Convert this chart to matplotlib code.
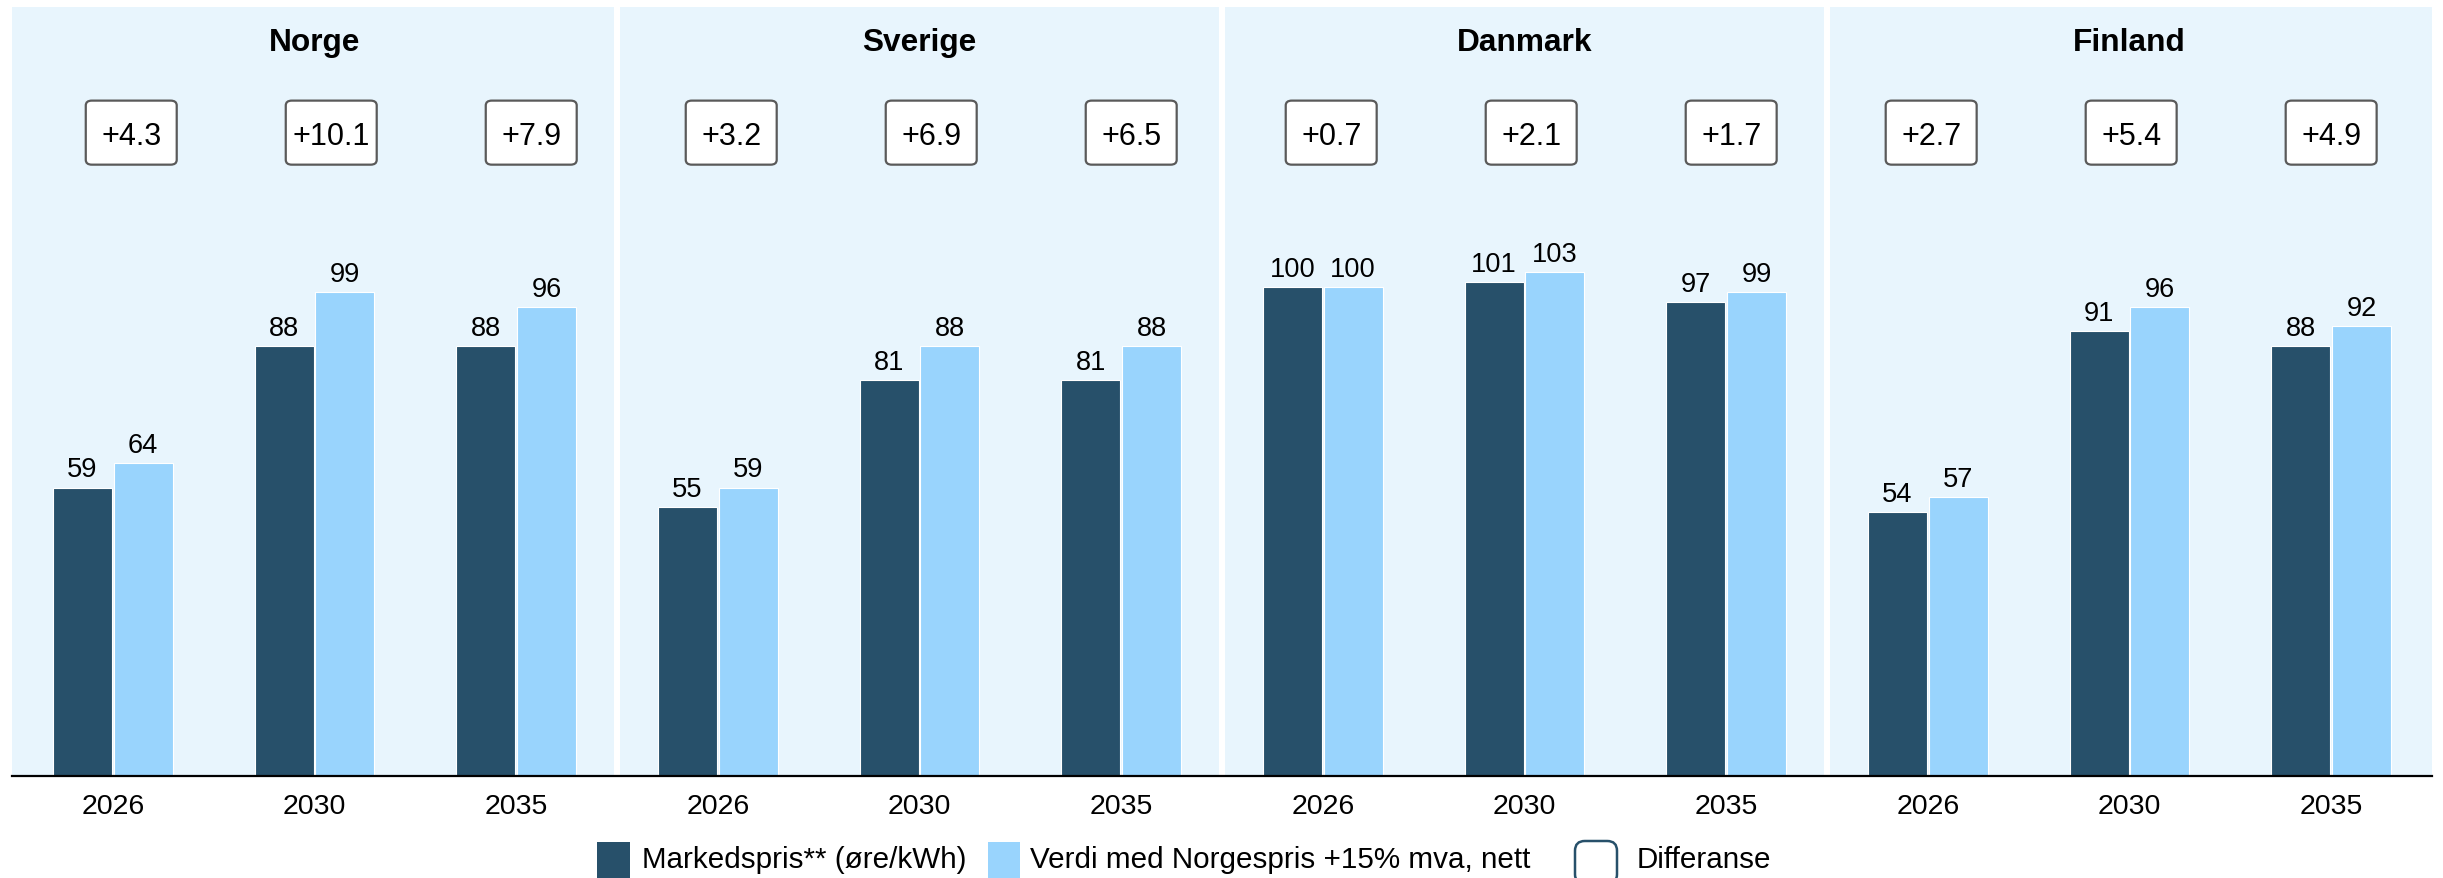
import matplotlib
matplotlib.use('Agg')
import matplotlib.pyplot as plt
from matplotlib.patches import FancyBboxPatch, Rectangle
import numpy as np

plt.rcParams['font.family'] = ['Liberation Sans', 'DejaVu Sans']

countries = ['Norge', 'Sverige', 'Danmark', 'Finland']
years = ['2026', '2030', '2035']
markedspris = [59, 88, 88, 55, 81, 81, 100, 101, 97, 54, 91, 88]
norgespris = [64, 99, 96, 59, 88, 88, 100, 103, 99, 57, 96, 92]
differanse = [4.3, 10.1, 7.9, 3.2, 6.9, 6.5, 0.7, 2.1, 1.7, 2.7, 5.4, 4.9]

dark = '#27506A'
light = '#99D4FD'
bg = '#E8F5FD'

W, H = 2443, 879
fig = plt.figure(figsize=(W/100, H/100), dpi=100)
ax = fig.add_axes([12/W, 1-777/H, (2432-12)/W, (777-8)/H])

g = 0.015
x = np.arange(12) + 0.5
w = 0.293

# panel backgrounds + titles
for p, c in enumerate(countries):
    lo = 3*p + (g if p > 0 else 0)
    hi = 3*p + 3 - (g if p < 3 else 0)
    ax.axvspan(lo, hi, color=bg, zorder=0, lw=0)
    ax.text(3*p+1.5, 148.6, c, ha='center', va='baseline', fontsize=22.8, fontweight='bold')

b1 = ax.bar(x-w/2-0.004, markedspris, w, color=dark, edgecolor='white', linewidth=0.8, zorder=2)
b2 = ax.bar(x+w/2+0.004, norgespris, w, color=light, edgecolor='white', linewidth=0.8, zorder=2)

for bars, vals in [(b1, markedspris), (b2, norgespris)]:
    for r, v in zip(bars, vals):
        ax.annotate(str(v), (r.get_x()+r.get_width()/2, r.get_height()), xytext=(0, 8),
                    textcoords='offset points', ha='center', va='baseline', fontsize=19.6)

# difference boxes (fixed size, spaced slightly tighter than the bar groups)
bw, bh = 0.451, 13.1
box_x = 11.5 - (11.5 - x) * 0.9917
for xi, d in zip(box_x, differanse):
    box = FancyBboxPatch((xi-bw/2, 131.6-bh/2), bw, bh,
                         boxstyle='round,pad=0,rounding_size=0.03', mutation_aspect=33,
                         facecolor='white', edgecolor='#5a5a5a', linewidth=1.6, zorder=3)
    ax.add_patch(box)
    ax.text(xi, 129.3, f'+{d:.1f}', ha='center', va='baseline', fontsize=22, zorder=4)

ax.set_xlim(0, 12)
ax.set_ylim(0, 157.3)
ax.set_xticks(x)
ax.set_xticklabels(years*4, fontsize=20.5)
ax.tick_params(axis='x', length=0, pad=12.5)
ax.set_yticks([])
for s in ['top', 'right', 'left']:
    ax.spines[s].set_visible(False)
ax.spines['bottom'].set_linewidth(1.6)
ax.spines['bottom'].set_zorder(5)
ax.set_facecolor('white')

# legend, laid out by hand in figure pixels
def px(xp, yp):
    return xp/W, 1-yp/H

fs = 21.3
fig.patches.append(Rectangle(px(597, 879), 33/W, 36/H, transform=fig.transFigure,
                             facecolor=dark, lw=0))
fig.text(*px(642, 860), 'Markedspris** (øre/kWh)', fontsize=fs, va='center', ha='left')
fig.patches.append(Rectangle(px(988, 879), 32/W, 36/H, transform=fig.transFigure,
                             facecolor=light, lw=0))
fig.text(*px(1030, 860), 'Verdi med Norgespris +15% mva, nett', fontsize=fs, va='center', ha='left')
fig.patches.append(FancyBboxPatch(px(1575, 885), 42/W, 43/H, transform=fig.transFigure,
                                  boxstyle='round,pad=0,rounding_size=0.004',
                                  mutation_aspect=W/H, facecolor='white',
                                  edgecolor=dark, lw=1.8))
fig.text(*px(1637, 860), 'Differanse', fontsize=fs, va='center', ha='left')

fig.savefig('out.png', dpi=100)
